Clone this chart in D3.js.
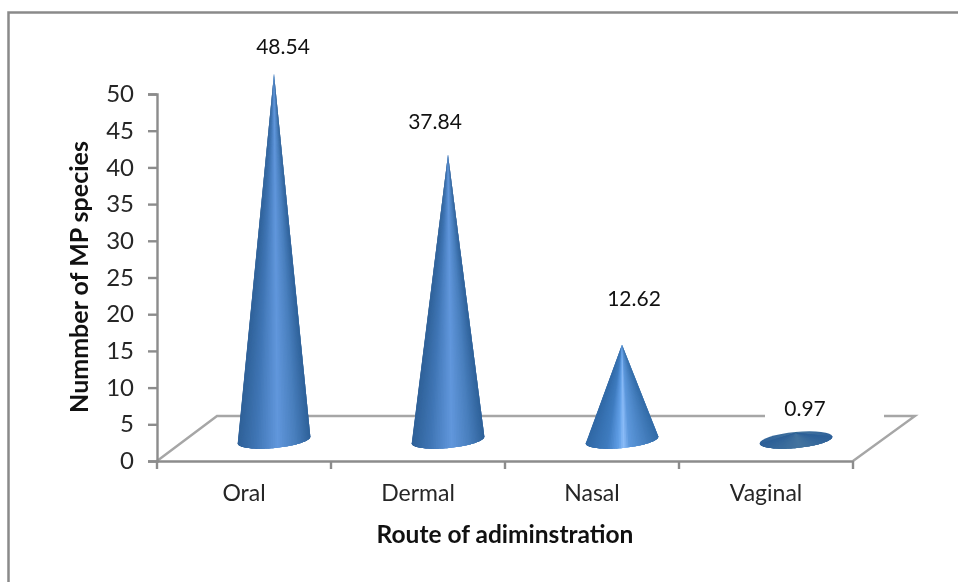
<!DOCTYPE html>
<html>
<head>
<meta charset="utf-8">
<script src="https://cdn.jsdelivr.net/npm/d3@7"></script>
<style>
	html, body { margin: 0; padding: 0; background: #fff; }
	svg { display: block; font-family: Lato, sans-serif; filter: blur(0.35px); }
	.axis path, .axis line { stroke: #8c8c8c; stroke-width: 2.4; fill: none; }
	.axis text { fill: #262626; font-family: Lato, sans-serif; }
</style>
</head>
<body>
<div id="chart"></div>
<script>
//
// Route of administration, 3D cone chart
//

var categories = ["Oral", "Dermal", "Nasal", "Vaginal"];
var values = [48.54, 37.84, 12.62, 0.97];
var value_labels = ["48.54", "37.84", "12.62", "0.97"];
var y_ticks = [0, 5, 10, 15, 20, 25, 30, 35, 40, 45, 50];
var x_title = "Route of adiminstration";
var y_title = "Nummber of MP species";

// hand placed label offsets from the cone tip, the source chart nudged them
var label_dx = [10, -12, 13, 10];
var label_dy = [-20, -26, -39, -17];

var total_width = 958, total_height = 582;
var margin = {top: 94, right: 105, bottom: 121, left: 157},
	width = total_width - margin.left - margin.right,
	height = total_height - margin.top - margin.bottom;

// floor of the 3D box
var depth_x = 60, depth_y = 45;
var cone_rx = 36.5, cone_ry = 8, cone_tilt = -5.5;

var svg = d3.select("#chart").append("svg")
	.attr("width", total_width)
	.attr("height", total_height);

var x = d3.scaleBand().domain(categories).range([0, 696]);
var y = d3.scaleLinear().domain([0, 50]).range([height, 0]);

// cones stand in the middle of the floor so they get a slightly larger scale
var base_y = height - 21;
var y_cone = d3.scaleLinear().domain([0, 50]).range([base_y, base_y - 377]);

// shading across the cone, 0 is the left edge and 1 the right edge
var shade_tall = d3.scaleLinear()
	.domain([0, 0.25, 0.55, 0.78, 1])
	.range(["#2f6198", "#3f75b4", "#6197dc", "#4a80bf", "#2e6199"]);
var shade_short = d3.scaleLinear()
	.domain([0, 0.3, 0.46, 0.52, 0.6, 1])
	.range(["#3068a5", "#3f7cc0", "#62a0e8", "#8cbdf8", "#5d98dc", "#336ca8"]);
var shade_flat = d3.scaleLinear()
	.domain([0, 0.55, 1])
	.range(["#2f6198", "#44749f", "#2e6199"]);
var cone_shades = [shade_tall, shade_tall, shade_short, shade_flat];

// gradients for the flat base ellipses
var defs = svg.append("defs");
cone_shades.forEach(function(shade, i) {
	var g = defs.append("linearGradient").attr("id", "base_" + i);
	shade.domain().forEach(function(o) {
		g.append("stop").attr("offset", o).attr("stop-color", shade(o));
	});
});

// chart frame, only top and left edges are inside the crop
svg.append("path")
	.attr("d", d3.line()([[8.5, total_height], [8.5, 12.5], [total_width, 12.5]]))
	.attr("fill", "none")
	.attr("stroke", "#8a8a8a")
	.attr("stroke-width", 2.5);

var plot = svg.append("g")
	.attr("transform", "translate(" + margin.left + "," + margin.top + ")");

// floor
plot.append("path")
	.attr("d", d3.line()([
		[0, y(0)],
		[depth_x, y(0) - depth_y],
		[696 + depth_x + 2, y(0) - depth_y],
		[696, y(0)]
	]))
	.attr("fill", "none")
	.attr("stroke", "#a6a6a6")
	.attr("stroke-width", 2.4);

// Y axis
var y_axis = plot.append("g")
	.attr("class", "axis")
	.call(d3.axisLeft(y).tickValues(y_ticks).tickSize(9).tickPadding(14));
y_axis.selectAll("text").attr("font-size", 24);

// X axis, labels come from the band scale, ticks sit on the band edges
var x_axis = plot.append("g")
	.attr("class", "axis")
	.attr("transform", "translate(0," + height + ")")
	.call(d3.axisBottom(x).tickSize(0).tickPadding(24));
x_axis.selectAll("text").attr("font-size", 23);
x_axis.selectAll(".edge")
	.data(d3.range(categories.length + 1))
	.enter()
	.append("line")
		.attr("class", "edge")
		.attr("x1", function(d) { return d * x.step(); })
		.attr("x2", function(d) { return d * x.step(); })
		.attr("y1", 0)
		.attr("y2", 8);

function cone_x(d) { return x(d) + x.bandwidth() / 2 + depth_x / 2; }

// point on the front half of the tilted base, a runs from 0 (left) to 1 (right)
function base_point(cx, a) {
	var t = cone_tilt * Math.PI / 180, th = Math.PI * (1 - a);
	var px = cone_rx * Math.cos(th), py = cone_ry * Math.sin(th);
	return [cx + px * Math.cos(t) - py * Math.sin(t), base_y + px * Math.sin(t) + py * Math.cos(t)];
}

// base ellipses, hidden behind the cones unless the cone is very flat
plot.selectAll(".base")
	.data(categories)
	.enter()
	.append("ellipse")
		.attr("class", "base")
		.attr("rx", cone_rx)
		.attr("ry", cone_ry)
		.attr("transform", function(d) { return "translate(" + cone_x(d) + "," + base_y + ") rotate(" + cone_tilt + ")"; })
		.attr("fill", function(d, i) { return "url(#base_" + i + ")"; });

// each cone is a fan of thin wedges from the tip, so the shading narrows towards it.
// every wedge runs on under the next one so no white seams show between them
var slice_count = 60;
var slices = d3.range(slice_count);
plot.selectAll(".cone")
	.data(categories)
	.enter()
	.append("g")
		.attr("class", "cone")
		.each(function(d, i) {
			var cx = cone_x(d), tip = [cx, y_cone(values[i])];
			d3.select(this).selectAll("path")
				.data(slices)
				.enter()
				.append("path")
					.attr("d", function(k) {
						var pts = [tip];
						d3.range(k, Math.min(k + 3, slice_count) + 1).forEach(function(j) {
							pts.push(base_point(cx, j / slice_count));
						});
						return d3.line()(pts) + "Z";
					})
					.attr("fill", function(k) {
						var p = base_point(cx, (k + 0.5) / slice_count);
						return cone_shades[i]((p[0] - cx + cone_rx) / (2 * cone_rx));
					});
		});

// the last label has a white box that cuts the back line of the floor
plot.append("rect")
	.attr("x", 608)
	.attr("y", y(0) - depth_y - 12)
	.attr("width", 119)
	.attr("height", 22)
	.attr("fill", "#fff");

// Labels
plot.selectAll(".value-label")
	.data(categories)
	.enter()
	.append("text")
		.attr("class", "value-label")
		.attr("x", function(d, i) { return cone_x(d) + label_dx[i] - 1; })
		.attr("y", function(d, i) { return y_cone(values[i]) + label_dy[i]; })
		.attr("text-anchor", "middle")
		.attr("font-size", 21)
		.attr("fill", "#111")
		.text(function(d, i) { return value_labels[i]; });

plot.append("text")
	.attr("x", 348)
	.attr("y", height + 82)
	.attr("text-anchor", "middle")
	.attr("font-size", 24.5)
	.attr("font-weight", "bold")
	.attr("fill", "#111")
	.text(x_title);

plot.append("text")
	.attr("transform", "translate(-69,183) rotate(-90)")
	.attr("text-anchor", "middle")
	.attr("font-size", 25)
	.attr("font-weight", "bold")
	.attr("fill", "#111")
	.text(y_title);
</script>
</body>
</html>
